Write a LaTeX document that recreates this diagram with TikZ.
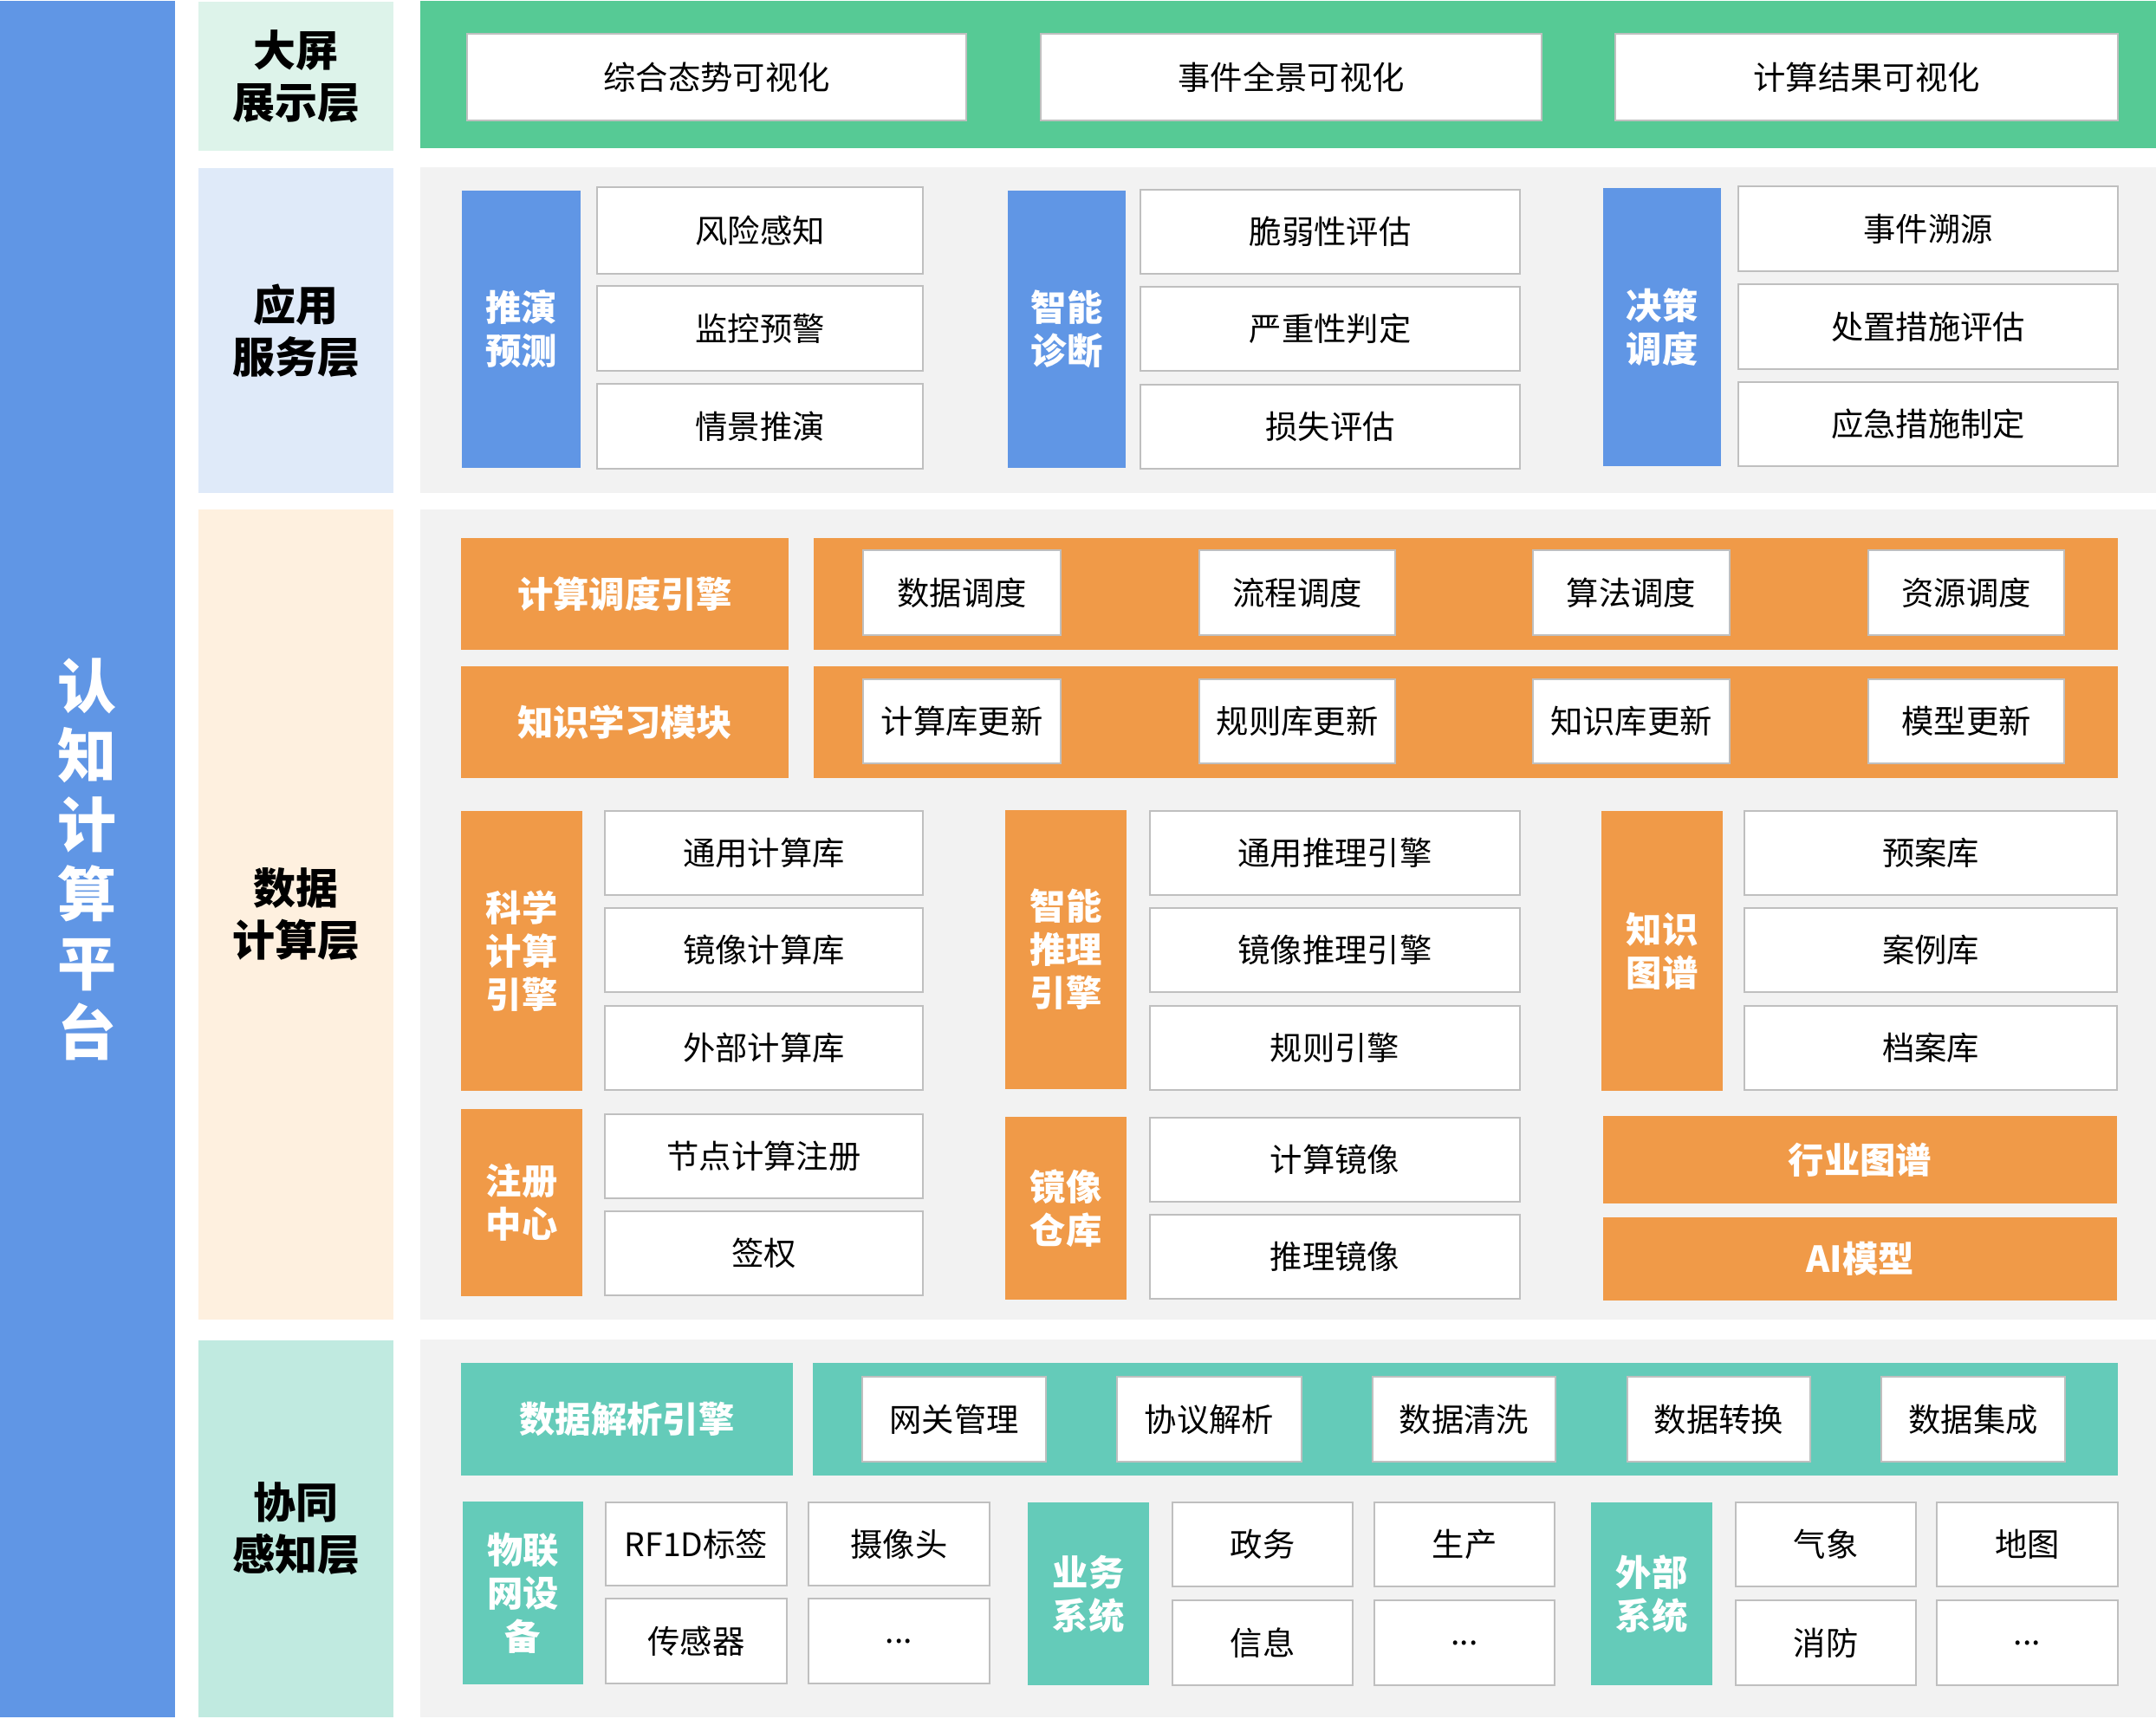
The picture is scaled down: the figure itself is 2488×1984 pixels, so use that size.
\documentclass[tikz,border=0pt]{standalone}
\usepackage{fontspec}
\setmainfont{Noto Sans CJK SC}
\definecolor{bluec}{HTML}{6096E5}
\definecolor{greenc}{HTML}{56CA95}
\definecolor{orngc}{HTML}{F09A48}
\definecolor{tealc}{HTML}{64CBB9}
\definecolor{panelc}{HTML}{F2F2F2}
\definecolor{bordc}{HTML}{BFBFBF}
\definecolor{lay1c}{HTML}{DDF3EA}
\definecolor{lay2c}{HTML}{DFEAF9}
\definecolor{lay3c}{HTML}{FEF0DF}
\definecolor{lay4c}{HTML}{C0EAE0}
\tikzset{
  base/.style={inner sep=0pt, outer sep=0pt, align=center},
  wbox/.style={base, fill=white, draw=bordc, line width=0.6pt, text=black, font=\fontsize{11.2}{13}\selectfont},
  obox/.style={base, fill=orngc, text=white, font=\bfseries\fontsize{12.4}{15}\selectfont},
  bbox/.style={base, fill=bluec, text=white, font=\bfseries\fontsize{12.4}{15}\selectfont},
  tbox/.style={base, fill=tealc, text=white, font=\bfseries\fontsize{12.4}{15}\selectfont},
  band/.style={base},
  layer/.style={base, text=black, font=\bfseries\fontsize{14.7}{18}\selectfont},
  panel/.style={base, fill=panelc},
}
\newcommand\bx[7]{\node[#6, minimum width={(#4-#2)*0.3pt}, minimum height={(#5-#3)*0.3pt}] (#1) at ({(#2+#4)/2},{(#3+#5)/2}) {#7};}
\begin{document}
\begin{tikzpicture}[x=0.3pt,y=-0.3pt]
\useasboundingbox[fill=white] (0,0) rectangle (2488,1984);
% left platform bar
\bx{plat}{0}{1}{202}{1982}{base, fill=bluec, text=white, font=\bfseries\fontsize{20.4}{24}\selectfont}{认\\知\\计\\算\\平\\台}
% layer labels
\bx{lay1}{229}{2}{454}{174}{layer, fill=lay1c}{大屏\\展示层}
\bx{lay2}{229}{194}{454}{569}{layer, fill=lay2c}{应用\\服务层}
\bx{lay3}{229}{588}{454}{1523}{layer, fill=lay3c}{数据\\计算层}
\bx{lay4}{229}{1547}{454}{1982}{layer, fill=lay4c}{协同\\感知层}
% panels
\bx{pan1}{485}{1}{2488}{171}{base, fill=greenc}{}
\bx{pan2}{485}{193}{2488}{569}{panel}{}
\bx{pan3}{485}{588}{2488}{1523}{panel}{}
\bx{pan4}{485}{1546}{2488}{1982}{panel}{}
% display layer
\bx{v1}{539}{39}{1115}{139}{wbox}{综合态势可视化}
\bx{v2}{1201}{39}{1779}{139}{wbox}{事件全景可视化}
\bx{v3}{1864}{39}{2444}{139}{wbox}{计算结果可视化}
% application layer
\bx{ag1}{533}{220}{670}{540}{bbox}{推演\\预测}
\bx{a11}{689}{216}{1065}{316}{wbox}{风险感知}
\bx{a12}{689}{330}{1065}{428}{wbox}{监控预警}
\bx{a13}{689}{443}{1065}{541}{wbox}{情景推演}
\bx{ag2}{1163}{220}{1299}{540}{bbox}{智能\\诊断}
\bx{a21}{1316}{219}{1754}{316}{wbox}{脆弱性评估}
\bx{a22}{1316}{331}{1754}{428}{wbox}{严重性判定}
\bx{a23}{1316}{444}{1754}{541}{wbox}{损失评估}
\bx{ag3}{1850}{217}{1986}{538}{bbox}{决策\\调度}
\bx{a31}{2006}{215}{2444}{313}{wbox}{事件溯源}
\bx{a32}{2006}{328}{2444}{426}{wbox}{处置措施评估}
\bx{a33}{2006}{441}{2444}{538}{wbox}{应急措施制定}
% data computing layer
\bx{d1}{532}{621}{910}{750}{obox}{计算调度引擎}
\bx{d1b}{939}{621}{2444}{750}{base, fill=orngc}{}
\bx{d11}{996}{635}{1224}{733}{wbox}{数据调度}
\bx{d12}{1384}{635}{1610}{733}{wbox}{流程调度}
\bx{d13}{1769}{635}{1996}{733}{wbox}{算法调度}
\bx{d14}{2156}{635}{2382}{733}{wbox}{资源调度}
\bx{d2}{532}{769}{910}{898}{obox}{知识学习模块}
\bx{d2b}{939}{769}{2444}{898}{base, fill=orngc}{}
\bx{d21}{996}{784}{1224}{881}{wbox}{计算库更新}
\bx{d22}{1384}{784}{1610}{881}{wbox}{规则库更新}
\bx{d23}{1769}{784}{1996}{881}{wbox}{知识库更新}
\bx{d24}{2156}{784}{2382}{881}{wbox}{模型更新}
\bx{sg1}{532}{936}{672}{1259}{obox}{科学\\计算\\引擎}
\bx{s11}{698}{936}{1065}{1033}{wbox}{通用计算库}
\bx{s12}{698}{1048}{1065}{1145}{wbox}{镜像计算库}
\bx{s13}{698}{1161}{1065}{1258}{wbox}{外部计算库}
\bx{sg2}{532}{1280}{672}{1496}{obox}{注册\\中心}
\bx{s21}{698}{1286}{1065}{1383}{wbox}{节点计算注册}
\bx{s22}{698}{1398}{1065}{1495}{wbox}{签权}
\bx{ig1}{1160}{935}{1300}{1257}{obox}{智能\\推理\\引擎}
\bx{i11}{1327}{936}{1754}{1033}{wbox}{通用推理引擎}
\bx{i12}{1327}{1048}{1754}{1145}{wbox}{镜像推理引擎}
\bx{i13}{1327}{1161}{1754}{1258}{wbox}{规则引擎}
\bx{ig2}{1160}{1289}{1300}{1500}{obox}{镜像\\仓库}
\bx{i21}{1327}{1290}{1754}{1387}{wbox}{计算镜像}
\bx{i22}{1327}{1402}{1754}{1499}{wbox}{推理镜像}
\bx{kg1}{1848}{936}{1988}{1259}{obox}{知识\\图谱}
\bx{k11}{2013}{936}{2443}{1033}{wbox}{预案库}
\bx{k12}{2013}{1048}{2443}{1145}{wbox}{案例库}
\bx{k13}{2013}{1161}{2443}{1258}{wbox}{档案库}
\bx{k2}{1850}{1288}{2443}{1389}{obox}{行业图谱}
\bx{k3}{1850}{1405}{2443}{1501}{obox}{AI模型}
% perception layer
\bx{p1}{532}{1573}{915}{1703}{tbox}{数据解析引擎}
\bx{p1b}{938}{1573}{2444}{1703}{base, fill=tealc}{}
\bx{p11}{995}{1589}{1207}{1687}{wbox}{网关管理}
\bx{p12}{1289}{1589}{1502}{1687}{wbox}{协议解析}
\bx{p13}{1584}{1589}{1795}{1687}{wbox}{数据清洗}
\bx{p14}{1878}{1589}{2089}{1687}{wbox}{数据转换}
\bx{p15}{2171}{1589}{2383}{1687}{wbox}{数据集成}
\bx{q1}{534}{1733}{673}{1944}{tbox}{物联\\网设\\备}
\bx{q11}{699}{1734}{908}{1830}{wbox}{RF1D标签}
\bx{q12}{933}{1734}{1142}{1830}{wbox}{摄像头}
\bx{q13}{699}{1845}{908}{1943}{wbox}{传感器}
\bx{q14}{933}{1845}{1142}{1943}{wbox}{...}
\bx{q2}{1186}{1734}{1326}{1945}{tbox}{业务\\系统}
\bx{q21}{1353}{1734}{1561}{1831}{wbox}{政务}
\bx{q22}{1586}{1734}{1794}{1831}{wbox}{生产}
\bx{q23}{1353}{1847}{1561}{1945}{wbox}{信息}
\bx{q24}{1586}{1847}{1794}{1945}{wbox}{...}
\bx{q3}{1836}{1734}{1976}{1945}{tbox}{外部\\系统}
\bx{q31}{2003}{1734}{2211}{1831}{wbox}{气象}
\bx{q32}{2235}{1734}{2444}{1831}{wbox}{地图}
\bx{q33}{2003}{1847}{2211}{1945}{wbox}{消防}
\bx{q34}{2235}{1847}{2444}{1945}{wbox}{...}
\end{tikzpicture}
\end{document}
